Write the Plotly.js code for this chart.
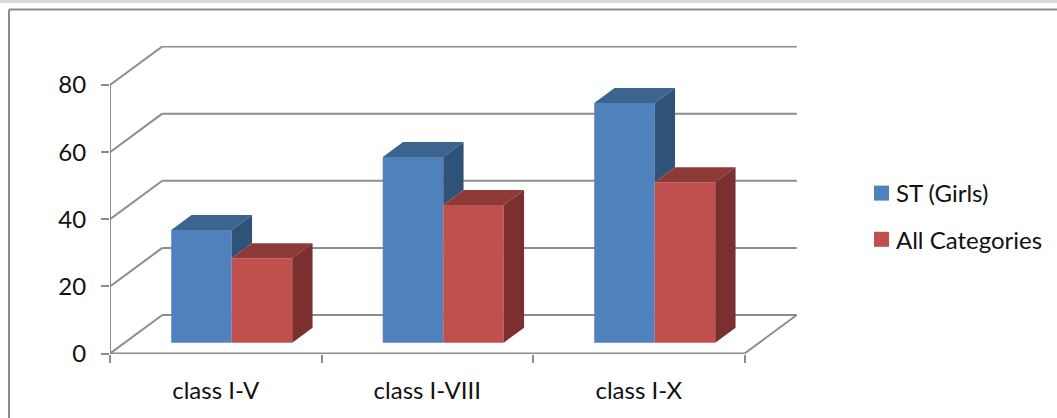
<!DOCTYPE html>
<html>
<head>
<meta charset="utf-8">
<script src="https://cdn.plot.ly/plotly-3.0.1.min.js"></script>
<style>html,body{margin:0;padding:0;background:#fff;overflow:hidden}#chart{width:1057px;height:418px}</style>
</head>
<body>
<div id="chart"></div>
<script>
// Data
const categories = ["class I-V", "class I-VIII", "class I-X"];
const stGirls = [33.6, 55.3, 71.4];
const allCategories = [25.2, 41.0, 47.8];
const yTicks = [0, 20, 40, 60, 80];

// Pseudo-3D geometry in pixels
const W = 1057, H = 418;
const plotL = 110, plotT = 46, plotB = 354, plotR = 797;
const catPx = 211.5, unitPx = 3.356;
const zeroPx = 353.5;
const wallDX = 52.3 / catPx, wallDY = 38.5 / unitPx;
const barDX = 20.3 / catPx, barDY = 15 / unitPx;
const barBase = 10.8 / unitPx, barShift = 16 / catPx, groupFrac = 121 / catPx;

const xMax = (plotR - plotL) / catPx;
const yMin = -(plotB - zeroPx) / unitPx;
const yMax = (zeroPx - plotT) / unitPx;
const n = categories.length;

const GRID = "#8c8c8c";
const BLUE = {front: "#4f81bd", top: "#3c648f", side: "#2f5279"};
const RED = {front: "#c0504d", top: "#8e3a38", side: "#7b2f2e"};

const line = (x0, y0, x1, y1, w) => ({type: "line", xref: "x", yref: "y", x0, y0, x1, y1, layer: "below", line: {color: GRID, width: w || 2}});
const shapes = [];
yTicks.forEach(v => {
  shapes.push(line(wallDX, v + wallDY, n + wallDX, v + wallDY));
  shapes.push(line(0, v, wallDX, v + wallDY));
});
shapes.push(line(0, 0, 0, yTicks[yTicks.length - 1]));
shapes.push(line(0, 0, n, 0));
shapes.push(line(n, 0, n + wallDX, wallDY));

const px = v => (v - plotL) / (plotR - plotL);
const py = v => (plotB - v) / (plotB - plotT);
// window strip and frame
shapes.push({type: "rect", xref: "paper", yref: "paper", x0: px(0), x1: px(W), y0: py(0), y1: py(3), fillcolor: "#d9d9d9", line: {width: 0}, layer: "below"});
shapes.push({type: "line", xref: "paper", yref: "paper", x0: px(9), x1: px(9), y0: py(9.5), y1: py(H), line: {color: GRID, width: 2}, layer: "below"});
shapes.push({type: "line", xref: "paper", yref: "paper", x0: px(9), x1: px(W), y0: py(9.5), y1: py(9.5), line: {color: GRID, width: 2}, layer: "below"});

const poly = (xs, ys, color) => ({type: "scatter", mode: "lines", x: xs, y: ys, fill: "toself", fillcolor: color, line: {width: 0, color: color}, showlegend: false, hoverinfo: "skip"});

const centers = categories.map((_, i) => i + 0.5 + barShift);
const faces = [];
categories.forEach((_, i) => {
  const xL = centers[i] - groupFrac / 2, xM = centers[i], xR = centers[i] + groupFrac / 2;
  const a = stGirls[i] + barBase, b = allCategories[i] + barBase;
  faces.push(poly([xL, xL + barDX, xM + barDX, xM, xL], [a, a + barDY, a + barDY, a, a], BLUE.top));
  faces.push(poly([xM, xM + barDX, xM + barDX, xM, xM], [a, a + barDY, b + barDY, b, a], BLUE.side));
  faces.push(poly([xM, xM + barDX, xR + barDX, xR, xM], [b, b + barDY, b + barDY, b, b], RED.top));
  faces.push(poly([xR, xR + barDX, xR + barDX, xR, xR], [b, b + barDY, barBase + barDY, barBase, b], RED.side));
});

const traces = [
  {type: "bar", name: "ST (Girls)", x: centers, y: stGirls, base: barBase, marker: {color: BLUE.front}, hoverinfo: "x+y", showlegend: true, legendgroup: "a"},
  {type: "bar", name: "All Categories", x: centers, y: allCategories, base: barBase, marker: {color: RED.front}, hoverinfo: "x+y", showlegend: true, legendgroup: "b"}
].concat(faces);

const font = "Lato, Carlito, 'Open Sans', sans-serif";
const layout = {
  width: W, height: H,
  margin: {l: plotL, r: W - plotR, t: plotT, b: H - plotB, pad: 0, autoexpand: false},
  paper_bgcolor: "#fff", plot_bgcolor: "rgba(0,0,0,0)",
  font: {family: font, size: 24, color: "#111"},
  barmode: "group", bargap: 1 - groupFrac, bargroupgap: 0,
  showlegend: true,
  legend: {x: (856 - plotL) / (plotR - plotL), xanchor: "left", y: py(171), yanchor: "top", bgcolor: "rgba(0,0,0,0)", tracegroupgap: 12, traceorder: "grouped", font: {family: font, size: 24, color: "#111"}, itemclick: false, itemdoubleclick: false},
  xaxis: {
    range: [0, xMax], showgrid: false, zeroline: false, showline: false, automargin: false,
    tickmode: "array", tickvals: categories.map((_, i) => i + 0.5), ticktext: categories,
    ticks: "", ticklabelstandoff: 20,
    minor: {tickmode: "array", tickvals: [0, 1, 2, 3], ticks: "outside", ticklen: 8, tickcolor: GRID, tickwidth: 2, showgrid: false}
  },
  yaxis: {
    range: [yMin, yMax], showgrid: false, zeroline: false, showline: false, automargin: false,
    tickmode: "array", tickvals: yTicks, ticks: "outside", ticklen: 8, tickcolor: GRID, tickwidth: 2,
    ticklabelstandoff: 10
  },
  shapes: shapes
};
Plotly.newPlot("chart", traces, layout, {displayModeBar: false}).then(() => {
  // legend swatches: 15 px squares sitting close to their labels
  document.querySelectorAll(".legend .legendpoints path").forEach(p => {
    p.setAttribute("transform", "translate(25.5,0) scale(1.25)");
  });
});
</script>
</body>
</html>
